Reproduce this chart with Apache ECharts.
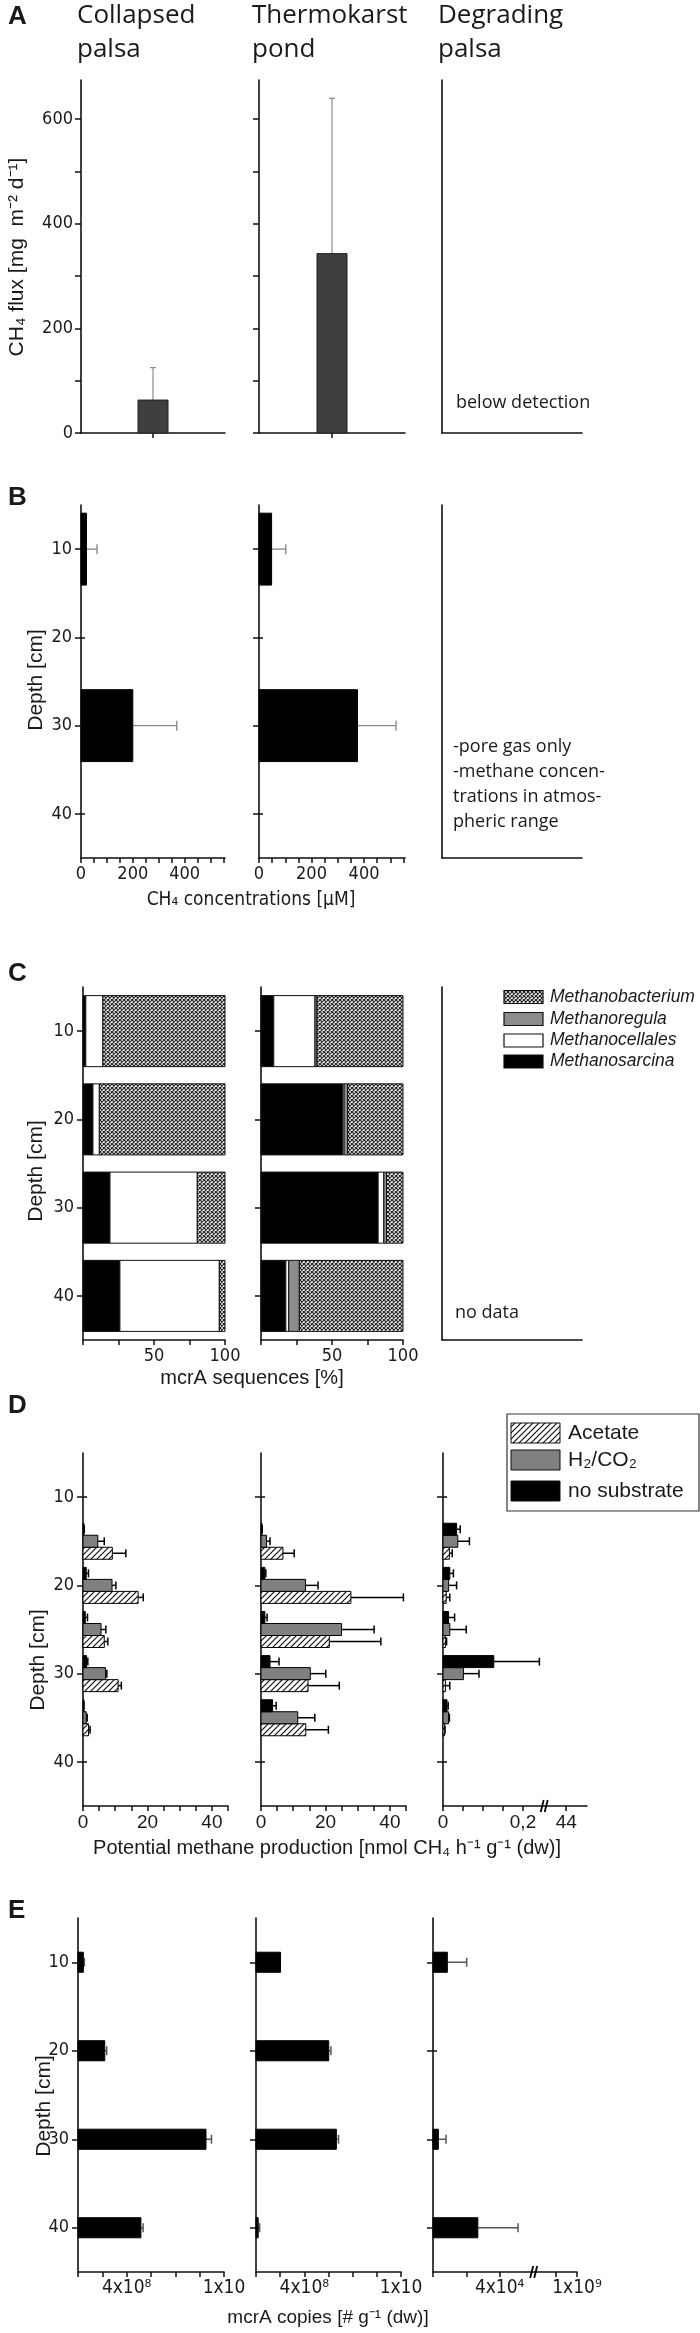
<!DOCTYPE html>
<html><head><meta charset="utf-8">
<script src="https://cdn.jsdelivr.net/npm/echarts@6/dist/echarts.min.js"></script>
<style>html,body{margin:0;padding:0;background:#fff}#c{width:700px;height:2333px}</style>
</head><body><div id="c"></div>
<script>
// ---------------- DATA ----------------
const siteNames = ['Collapsed palsa', 'Thermokarst pond', 'Degrading palsa'];

// A: CH4 flux (mg m-2 d-1)
const fluxMean = [63, 343];
const fluxUpper = [125, 640];
const fluxTicks = [0, 100, 200, 300, 400, 500, 600];
const fluxLabels = [0, 200, 400, 600];

// depth axis
const depthTicks = [10, 20, 30, 40];

// B: CH4 concentrations (µM)
const concDepths = [10, 30];
const concCollapsed = [21, 200];
const concCollapsedUpper = [62, 370];
const concThermokarst = [48, 375];
const concThermokarstUpper = [102, 522];
const concTicks = [0, 50, 100, 150, 200, 250, 300, 350, 400, 450, 500, 550];
const concLabels = [0, 200, 400];

// C: mcrA sequences (%)
const seqDepths = [10, 20, 30, 40];
const seqGroups = ['Methanobacterium', 'Methanoregula', 'Methanocellales', 'Methanosarcina'];
const seqCollapsedSarcina = [2, 7, 19, 26];
const seqCollapsedCellales = [12, 4.5, 61.5, 70];
const seqCollapsedRegula = [0, 0, 0, 0];
const seqCollapsedBacterium = [86, 88.5, 19.5, 4];
const seqThermoSarcina = [9, 57.5, 82.5, 17.5];
const seqThermoCellales = [29, 1, 4, 2];
const seqThermoRegula = [1.5, 2.5, 2, 7.5];
const seqThermoBacterium = [60.5, 39, 11.5, 73];
const seqTicks = [0, 25, 50, 75, 100];
const seqLabels = [50, 100];

// D: potential methane production (nmol CH4 h-1 g-1 dw)
const prodDepths = [15, 20, 25, 30, 35];
const substrates = ['Acetate', 'H₂/CO₂', 'no substrate'];
const prodCollapsedAcetate = [9.1, 17.1, 6.6, 10.9, 1.7];
const prodCollapsedAcetateUpper = [13.3, 18.7, 7.7, 11.9, 2.2];
const prodCollapsedH2 = [4.6, 9.0, 5.6, 7.0, 1.0];
const prodCollapsedH2Upper = [6.6, 10.2, 7.1, 7.4, 1.3];
const prodCollapsedNone = [0.3, 1.0, 0.7, 1.1, 0.2];
const prodCollapsedNoneUpper = [0.4, 1.7, 1.4, 1.5, 0.3];
const prodThermoAcetate = [6.8, 27.9, 21.2, 14.6, 13.9];
const prodThermoAcetateUpper = [10.3, 44.2, 37.2, 24.3, 20.9];
const prodThermoH2 = [1.7, 13.8, 25.0, 15.3, 11.4];
const prodThermoH2Upper = [2.8, 17.7, 35.1, 20.1, 16.7];
const prodThermoNone = [0.3, 1.2, 1.2, 2.8, 3.6];
const prodThermoNoneUpper = [0.4, 1.5, 1.9, 5.6, 4.7];
const prodDegradAcetate = [0.016, 0.008, 0.006, 0.006, 0.004];
const prodDegradAcetateUpper = [0.023, 0.017, 0.009, 0.017, 0.005];
const prodDegradH2 = [0.037, 0.014, 0.017, 0.051, 0.014];
const prodDegradH2Upper = [0.066, 0.034, 0.058, 0.090, 0.016];
const prodDegradNone = [0.034, 0.017, 0.014, 0.127, 0.010];
const prodDegradNoneUpper = [0.043, 0.026, 0.029, 0.241, 0.013];
const prodTicks = [0, 5, 10, 15, 20, 25, 30, 35, 40, 45];
const prodLabels = [0, 20, 40];
const prodDegradTicks = [0, 0.05, 0.1, 0.15, 0.2, 0.308];
const prodDegradLabels = [0, 0.2, 0.308];
const prodDegradLabelText = ['0', '0,2', '44'];
const prodDegradBreak = [0.253];

// E: mcrA copies (# g-1 dw)
const copyDepths = [10, 20, 30, 40];
const copyCollapsed = [4.4e7, 2.2e8, 1.052e9, 5.17e8];
const copyCollapsedUpper = [5.2e7, 2.36e8, 1.097e9, 5.35e8];
const copyThermo = [2.03e8, 6.02e8, 6.65e8, 1.8e7];
const copyThermoUpper = [2.03e8, 6.2e8, 6.83e8, 3.0e7];
const copyDegrad = [0.86e4, 0, 0.32e4, 2.69e4];
const copyDegradUpper = [2.02e4, 0, 0.78e4, 5.1e4];
const copyTicks = [0, 2e8, 4e8, 6e8, 8e8, 1e9, 1.2e9];
const copyLabels = [4e8, 1.2e9];
const copyLabelText = ['4x10⁸', '1x10'];
const copyDegradTicks = [0, 2e4, 4e4, 7.35e4, 8.64e4];
const copyDegradLabels = [4e4, 8.64e4];
const copyDegradLabelText = ['4x10⁴', '1x10⁹'];
const copyDegradBreak = [6.04e4];

// ---------------- STYLE / LAYOUT ----------------
const FONT_T = '"Open Sans", Lato, sans-serif';
const FONT_N = '"Liberation Sans Narrow", "DejaVu Sans Condensed", Lato, sans-serif';
const FONT_A = '"Liberation Sans", Arial, sans-serif';
const INK = '#1a1a1a';
const TICKFS = 18;
const ROWS = {A: [80, 433], B: [505, 858], C: [987, 1340], D: [1453, 1806], E: [1918, 2272]};
const COLS = {
  A: [[81, 225], [259, 405], [442, 582]],
  B: [[81, 225], [259, 405], [442, 582]],
  C: [[83, 225], [261, 403], [442, 582]],
  D: [[83, 228], [261, 406], [443, 587]],
  E: [[78, 224], [256, 401], [433, 577]]
};

function makePattern(kind) {
  const c = document.createElement('canvas');
  const n = kind === 'cross' ? 4 : 6;
  c.width = n; c.height = n;
  const g = c.getContext('2d');
  g.fillStyle = '#fff'; g.fillRect(0, 0, n, n);
  g.strokeStyle = kind === 'cross' ? '#222' : '#111';
  g.lineWidth = kind === 'cross' ? 1.2 : 1.2;
  g.beginPath();
  if (kind === 'cross') {
    g.moveTo(0, 0); g.lineTo(n, n);
    g.moveTo(n, 0); g.lineTo(0, n);
  } else {
    g.moveTo(-1, n + 1); g.lineTo(n + 1, -1);
    g.moveTo(-1, 1); g.lineTo(1, -1);
    g.moveTo(n - 1, n + 1); g.lineTo(n + 1, n - 1);
  }
  g.stroke();
  return {image: c, repeat: 'repeat'};
}
const CROSS = makePattern('cross');
const HATCH = makePattern('hatch');
const seqFills = {Methanobacterium: CROSS, Methanoregula: '#8c8c8c', Methanocellales: '#ffffff', Methanosarcina: '#000000'};
const subFills = [HATCH, '#808080', '#000000'];

const grids = [], xAxes = [], yAxes = [], series = [], graphics = [];
const axisLine = {show: true, onZero: false, lineStyle: {color: '#111', width: 1.6}};
const tickStyle = {color: '#111', width: 1.5};

function addGrid(row, col) {
  const [t, b] = ROWS[row];
  const [l, r] = COLS[row][col];
  grids.push({left: l, top: t, width: r - l, height: b - t, outerBoundsMode: 'none', containLabel: false, show: false});
  return grids.length - 1;
}
function valueX(gi, min, max, ticks, labels, fmt, fontSize, fontFamily, margin) {
  xAxes.push({
    type: 'value', gridIndex: gi, min, max, position: 'bottom',
    axisLine,
    axisTick: ticks ? {show: true, length: 5, lineStyle: tickStyle, customValues: ticks} : {show: false},
    axisLabel: labels ? {show: true, customValues: labels, formatter: fmt, fontSize: fontSize || TICKFS,
      fontFamily: fontFamily || FONT_N, color: INK, margin: margin == null ? 7 : margin} : {show: false},
    splitLine: {show: false}
  });
  return xAxes.length - 1;
}
function valueY(gi, min, max, ticks, labels, inverse, fontSize, margin) {
  yAxes.push({
    type: 'value', gridIndex: gi, min, max, inverse: !!inverse, position: 'left',
    axisLine,
    axisTick: ticks ? {show: true, length: 6, lineStyle: tickStyle, customValues: ticks} : {show: false},
    axisLabel: labels ? {show: true, customValues: labels, fontSize: fontSize || TICKFS, fontFamily: FONT_N,
      color: INK, margin: margin == null ? 9 : margin} : {show: false},
    splitLine: {show: false}
  });
  return yAxes.length - 1;
}
function depthY(gi, ticks, labels) {
  const idx = valueY(gi, 5, 45, ticks ? depthTicks : null, labels ? depthTicks : null, true, TICKFS, 9);
  if (ticks) {
    yAxes.push({
      type: 'value', gridIndex: gi, min: 5, max: 45, inverse: true, position: 'left', offset: 0,
      axisLine: {show: false},
      axisTick: {show: true, inside: true, length: 4, lineStyle: tickStyle, customValues: depthTicks},
      axisLabel: {show: false}, splitLine: {show: false}
    });
  }
  return idx;
}

function hBars(xi, yi, depths, vals, uppers, opt) {
  series.push({
    type: 'custom', coordinateSystem: 'cartesian2d', xAxisIndex: xi, yAxisIndex: yi,
    silent: true, clip: false, animation: false,
    encode: {x: [1, 2], y: 0},
    data: depths.map((d, i) => [d, vals[i], uppers ? uppers[i] : vals[i]]),
    renderItem(params, api) {
      const d = api.value(0) + (opt.offset || 0), v = api.value(1), u = api.value(2);
      const p0 = api.coord([0, d]), p1 = api.coord([v, d]);
      const h = Math.abs(api.size([0, opt.thick])[1]);
      const ch = [];
      if (!isNaN(u) && u > v) {
        const p2 = api.coord([u, d]);
        ch.push({type: 'line', shape: {x1: p1[0], y1: p1[1], x2: p2[0], y2: p2[1]}, style: {stroke: opt.err, lineWidth: opt.errW || 1.3}});
        ch.push({type: 'line', shape: {x1: p2[0], y1: p2[1] - opt.cap / 2, x2: p2[0], y2: p2[1] + opt.cap / 2}, style: {stroke: opt.err, lineWidth: opt.errW || 1.3}});
      }
      if (v > 0) {
        ch.push({type: 'rect', shape: {x: p0[0], y: p0[1] - h / 2, width: Math.max(p1[0] - p0[0], 1), height: h},
          style: {fill: opt.fill, stroke: opt.stroke || '#000', lineWidth: opt.strokeW == null ? 1 : opt.strokeW}});
      }
      return {type: 'group', children: ch};
    }
  });
}
function stackBars(xi, yi, depths, groupArrays, thick) {
  // stacking order left -> right: Sarcina, Cellales, Regula, Bacterium
  const order = ['Methanosarcina', 'Methanocellales', 'Methanoregula', 'Methanobacterium'];
  const start = depths.map(() => 0);
  order.forEach(name => {
    const arr = groupArrays[name];
    const data = depths.map((d, i) => { const s = start[i]; start[i] += arr[i]; return [d, s, s + arr[i]]; });
    series.push({
      type: 'custom', coordinateSystem: 'cartesian2d', xAxisIndex: xi, yAxisIndex: yi,
      silent: true, clip: false, animation: false, encode: {x: [1, 2], y: 0}, data,
      renderItem(params, api) {
        const d = api.value(0), s = api.value(1), e = api.value(2);
        if (e - s <= 0) return {type: 'group', children: []};
        const p0 = api.coord([s, d]), p1 = api.coord([e, d]);
        const h = Math.abs(api.size([0, thick])[1]);
        return {type: 'rect', shape: {x: p0[0], y: p0[1] - h / 2, width: p1[0] - p0[0], height: h},
          style: {fill: seqFills[name], stroke: '#111', lineWidth: 1}};
      }
    });
  });
}
function breakMark(xi, yi, at, yVal) {
  series.push({
    type: 'custom', coordinateSystem: 'cartesian2d', xAxisIndex: xi, yAxisIndex: yi,
    silent: true, clip: false, animation: false, data: at.map(v => [v, yVal]), encode: {x: 0, y: 1},
    renderItem(params, api) {
      const p = api.coord([api.value(0), api.value(1)]);
      return {type: 'group', children: [
        {type: 'line', shape: {x1: p[0] - 3.5, y1: p[1] + 6, x2: p[0] - 0.5, y2: p[1] - 6}, style: {stroke: '#000', lineWidth: 1.8}},
        {type: 'line', shape: {x1: p[0] + 0.5, y1: p[1] + 6, x2: p[0] + 3.5, y2: p[1] - 6}, style: {stroke: '#000', lineWidth: 1.8}}
      ]};
    }
  });
}
function txt(text, x, y, o) {
  o = o || {};
  graphics.push({
    type: 'text', x, y, rotation: o.rot || 0, silent: true,
    style: {text, fill: INK, fontSize: o.size || 20, fontFamily: o.font || FONT_T,
      fontWeight: o.weight || 'normal', fontStyle: o.style || 'normal',
      textAlign: o.align || 'left', textVerticalAlign: o.valign || 'middle'}
  });
}
function rectG(x, y, w, h, fill, stroke, lw) {
  graphics.push({type: 'rect', silent: true, shape: {x, y, width: w, height: h},
    style: {fill, stroke: stroke || '#111', lineWidth: lw == null ? 1 : lw}});
}

// ---------------- PANEL A ----------------
{
  const g1 = addGrid('A', 0), g2 = addGrid('A', 1), g3 = addGrid('A', 2);
  const x1 = valueX(g1, 0, 2, [1], null), y1 = valueY(g1, 0, 675, fluxTicks, fluxLabels, false, TICKFS, 8);
  const x2 = valueX(g2, 0, 2, [1], null), y2 = valueY(g2, 0, 675, fluxTicks, null, false);
  valueX(g3, 0, 2, null, null); valueY(g3, 0, 675, null, null, false);
  [[x1, y1, 0], [x2, y2, 1]].forEach(([xi, yi, k]) => {
    series.push({
      type: 'custom', coordinateSystem: 'cartesian2d', xAxisIndex: xi, yAxisIndex: yi, silent: true, animation: false,
      data: [[1, fluxMean[k], fluxUpper[k]]],
      renderItem(params, api) {
        const c = api.value(0), v = api.value(1), u = api.value(2);
        const b = api.coord([c, 0]), t = api.coord([c, v]), e = api.coord([c, u]);
        const w = 30;
        return {type: 'group', children: [
          {type: 'line', shape: {x1: b[0], y1: t[1], x2: b[0], y2: e[1]}, style: {stroke: '#8a8a8a', lineWidth: 1.2}},
          {type: 'line', shape: {x1: b[0] - 3, y1: e[1], x2: b[0] + 3, y2: e[1]}, style: {stroke: '#8a8a8a', lineWidth: 1.2}},
          {type: 'rect', shape: {x: b[0] - w / 2, y: t[1], width: w, height: b[1] - t[1]}, style: {fill: '#3f3f3f', stroke: '#222', lineWidth: 1}}
        ]};
      }
    });
  });
}
// ---------------- PANEL B ----------------
{
  const g1 = addGrid('B', 0), g2 = addGrid('B', 1), g3 = addGrid('B', 2);
  const x1 = valueX(g1, 0, 556, concTicks, concLabels), y1 = depthY(g1, true, true);
  const x2 = valueX(g2, 0, 556, concTicks, concLabels), y2 = depthY(g2, true, false);
  valueX(g3, 0, 556, null, null); valueY(g3, 5, 45, null, null, true);
  const o = {thick: 8.15, fill: '#000', err: '#8a8a8a', cap: 10, errW: 1.4};
  hBars(x1, y1, concDepths, concCollapsed, concCollapsedUpper, o);
  hBars(x2, y2, concDepths, concThermokarst, concThermokarstUpper, o);
}
// ---------------- PANEL C ----------------
{
  const g1 = addGrid('C', 0), g2 = addGrid('C', 1), g3 = addGrid('C', 2);
  const x1 = valueX(g1, 0, 100, seqTicks, seqLabels), y1 = depthY(g1, true, true);
  const x2 = valueX(g2, 0, 100, seqTicks, seqLabels), y2 = depthY(g2, true, false);
  valueX(g3, 0, 100, null, null); valueY(g3, 5, 45, null, null, true);
  stackBars(x1, y1, seqDepths, {Methanosarcina: seqCollapsedSarcina, Methanocellales: seqCollapsedCellales,
    Methanoregula: seqCollapsedRegula, Methanobacterium: seqCollapsedBacterium}, 8.05);
  stackBars(x2, y2, seqDepths, {Methanosarcina: seqThermoSarcina, Methanocellales: seqThermoCellales,
    Methanoregula: seqThermoRegula, Methanobacterium: seqThermoBacterium}, 8.05);
}
// ---------------- PANEL D ----------------
{
  const g1 = addGrid('D', 0), g2 = addGrid('D', 1), g3 = addGrid('D', 2);
  const lab = v => String(v);
  const x1 = valueX(g1, 0, 45, prodTicks, prodLabels, lab, 19, FONT_A, 7), y1 = depthY(g1, true, true);
  const x2 = valueX(g2, 0, 45, prodTicks, prodLabels, lab, 19, FONT_A, 7), y2 = depthY(g2, true, false);
  const labD = v => { let k = 0; prodDegradLabels.forEach((w, i) => { if (Math.abs(w - v) < 1e-6) k = i; }); return prodDegradLabelText[k]; };
  const x3 = valueX(g3, 0, 0.36, prodDegradTicks, prodDegradLabels, labD, 19, FONT_A, 7), y3 = depthY(g3, true, false);
  const T = 1.36;
  const sets = [
    [x1, y1, [prodCollapsedAcetate, prodCollapsedH2, prodCollapsedNone], [prodCollapsedAcetateUpper, prodCollapsedH2Upper, prodCollapsedNoneUpper]],
    [x2, y2, [prodThermoAcetate, prodThermoH2, prodThermoNone], [prodThermoAcetateUpper, prodThermoH2Upper, prodThermoNoneUpper]],
    [x3, y3, [prodDegradAcetate, prodDegradH2, prodDegradNone], [prodDegradAcetateUpper, prodDegradH2Upper, prodDegradNoneUpper]]
  ];
  const offs = [T, 0, -T];
  sets.forEach(([xi, yi, vals, ups]) => {
    vals.forEach((v, k) => hBars(xi, yi, prodDepths, v, ups[k], {thick: T, offset: offs[k], fill: subFills[k], err: '#000', cap: 8, errW: 1.5}));
  });
  breakMark(x3, y3, prodDegradBreak, 45);
}
// ---------------- PANEL E ----------------
{
  const g1 = addGrid('E', 0), g2 = addGrid('E', 1), g3 = addGrid('E', 2);
  const labE = v => { let k = 0; copyLabels.forEach((w, i) => { if (Math.abs(w - v) < 1) k = i; }); return copyLabelText[k]; };
  const labE3 = v => { let k = 0; copyDegradLabels.forEach((w, i) => { if (Math.abs(w - v) < 1) k = i; }); return copyDegradLabelText[k]; };
  const x1 = valueX(g1, 0, 1.2e9, copyTicks, copyLabels, labE, 19, FONT_N, 7), y1 = depthY(g1, true, true);
  const x2 = valueX(g2, 0, 1.2e9, copyTicks, copyLabels, labE, 19, FONT_N, 7), y2 = depthY(g2, true, false);
  const x3 = valueX(g3, 0, 8.64e4, copyDegradTicks, copyDegradLabels, labE3, 19, FONT_N, 7), y3 = depthY(g3, true, false);
  const o = {thick: 2.27, fill: '#000', err: '#555', cap: 9, errW: 1.5};
  hBars(x1, y1, copyDepths, copyCollapsed, copyCollapsedUpper, o);
  hBars(x2, y2, copyDepths, copyThermo, copyThermoUpper, o);
  hBars(x3, y3, copyDepths, copyDegrad, copyDegradUpper, o);
  breakMark(x3, y3, copyDegradBreak, 45);
}

// ---------------- TEXT ----------------
const LET = {size: 26, weight: 'bold', font: FONT_A};
txt('A', 8, 17, LET);
txt('B', 8, 498, LET);
txt('C', 8, 974, LET);
txt('D', 8, 1406, LET);
txt('E', 8, 1911, LET);
const titleX = [77, 252, 438];
siteNames.forEach((s, i) => {
  const parts = s.split(' ');
  txt(parts[0], titleX[i], 16, {size: 26});
  txt(parts[1], titleX[i], 50, {size: 26});
});
txt('CH₄ flux [mg  m⁻² d⁻¹]', 17, 257, {size: 21, font: FONT_A, rot: Math.PI / 2, align: 'center'});
txt('below detection', 456, 403, {size: 18});
['-pore gas only', '-methane concen-', 'trations in atmos-', 'pheric range'].forEach((s, i) => txt(s, 453, 747 + 25 * i, {size: 18}));
txt('CH₄ concentrations [µM]', 251, 900, {size: 19, font: FONT_N, align: 'center'});
txt('Depth [cm]', 36, 680, {size: 21, font: FONT_A, rot: Math.PI / 2, align: 'center'});
txt('Depth [cm]', 36, 1171, {size: 21, font: FONT_A, rot: Math.PI / 2, align: 'center'});
txt('Depth [cm]', 38, 1660, {size: 21, font: FONT_A, rot: Math.PI / 2, align: 'center'});
txt('Depth [cm]', 44, 2106, {size: 21, font: FONT_A, rot: Math.PI / 2, align: 'center'});
txt('no data', 455, 1313, {size: 18});
txt('mcrA sequences [%]', 252, 1378, {size: 20, font: FONT_A, align: 'center'});
txt('Potential methane production [nmol CH₄ h⁻¹ g⁻¹ (dw)]', 327, 1848, {size: 20, font: FONT_A, align: 'center'});
txt('mcrA copies [# g⁻¹ (dw)]', 328, 2318, {size: 19, font: FONT_A, align: 'center'});

// C legend
seqGroups.forEach((name, i) => {
  const cy = [997, 1019, 1040.5, 1061.5][i];
  rectG(504, cy - 6.5, 39, 13, seqFills[name], '#111', 1.2);
  txt(name, 550, cy, {size: 17.5, font: FONT_A, style: 'italic'});
});
// D legend
rectG(507, 1414, 192, 97, '#fff', '#333', 1.2);
substrates.forEach((name, i) => {
  const cy = [1433, 1460, 1491][i];
  rectG(511, cy - 10, 49, 20, subFills[i], '#111', 1);
  txt(name, 568, cy, {size: 21, font: FONT_A});
});

const chart = echarts.init(document.getElementById('c'), null, {renderer: 'canvas', width: 700, height: 2333});
chart.setOption({
  animation: false,
  backgroundColor: '#fff',
  grid: grids, xAxis: xAxes, yAxis: yAxes, series,
  graphic: {elements: graphics}
});
</script></body></html>
